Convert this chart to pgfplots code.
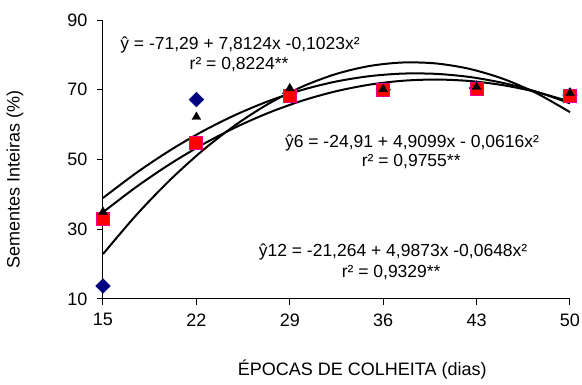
\documentclass[border=0pt]{standalone}
\usepackage{pgfplots}
\pgfplotsset{compat=1.18}
\usepackage{fontspec}
\setmainfont{Liberation Sans}
\definecolor{navy}{RGB}{0,0,128}
\begin{document}
\begin{tikzpicture}[x=1pt,y=1pt]
\path[use as bounding box] (-103,-86) rectangle (479,299);
\begin{axis}[
  at={(0,0)}, anchor=origin,
  scale only axis, width=467pt, height=279pt,
  xmin=15, xmax=50, ymin=10, ymax=90,
  axis lines=left, axis line style={line width=1pt,-},
  xtick={15,22,29,36,43,50}, ytick={10,30,50,70,90},
  tick align=outside, major tick length=6pt,
  tick style={line width=1pt,black},
  ticklabel style={font=\fontsize{18}{20}\selectfont},
  xticklabel style={yshift=-5pt},
  yticklabel style={xshift=-6pt},
  /pgf/number format/assume math mode=true,
  clip=false,
]
% diamonds
\addplot[only marks, mark=square*, mark size=5.2pt, mark options={rotate=45}, color=navy] coordinates {
(15,13.7) (22,67.2) (29,69) (36,70) (43,70.5) (50,68.5)};
% squares
\addplot[only marks, mark=square*, mark size=6.5pt, draw=magenta, fill=red, line width=1pt] coordinates {
(15,32.9) (22,54.8) (29,68.2) (36,69.9) (43,70.2) (50,68.3)};
% triangles
\addplot[only marks, mark=triangle*, mark size=5pt, color=black] coordinates {
(15,35) (22,62.2) (29,70.4) (36,70.2) (43,70.8) (50,69.0)};
% fitted curves
\addplot[smooth, line width=2pt, black] coordinates {
(15,22.88) (17.5,34.10) (20,44.04) (22.5,52.70) (25,60.08) (27.5,66.19) (30,71.01) (32.5,74.56) (35,76.83) (37.5,77.82) (40,77.53) (42.5,75.96) (45,73.11) (47.5,68.99) (50,63.58)};
\addplot[smooth, line width=2pt, black] coordinates {
(15,34.88) (17.5,42.15) (20,48.65) (22.5,54.38) (25,59.34) (27.5,63.53) (30,66.95) (32.5,69.60) (35,71.48) (37.5,72.59) (40,72.93) (42.5,72.50) (45,71.30) (47.5,69.33) (50,66.59)};
\addplot[smooth, line width=2pt, black] coordinates {
(15,38.97) (17.5,46.17) (20,52.56) (22.5,58.15) (25,62.92) (27.5,66.88) (30,70.04) (32.5,72.38) (35,73.91) (37.5,74.64) (40,74.55) (42.5,73.65) (45,71.94) (47.5,69.43) (50,66.10)};
% equations
\node[font=\fontsize{17.5}{19}\selectfont] at (axis cs:25.27,82.8) {ŷ = -71,29 + 7,8124x -0,1023x²};
\node[font=\fontsize{17.5}{19}\selectfont] at (axis cs:25.2,77.1) {r² = 0,8224**};
\node[font=\fontsize{17.5}{19}\selectfont] at (axis cs:38.16,54.7) {ŷ6 = -24,91 + 4,9099x - 0,0616x²};
\node[font=\fontsize{17.5}{19}\selectfont] at (axis cs:38.1,49.3) {r² = 0,9755**};
\node[font=\fontsize{17.5}{19}\selectfont] at (axis cs:36.74,23.5) {ŷ12 = -21,264 + 4,9873x -0,0648x²};
\node[font=\fontsize{17.5}{19}\selectfont] at (axis cs:36.6,17.7) {r² = 0,9329**};
% axis labels
\node[font=\fontsize{18}{20}\selectfont] at ([yshift=-71pt]rel axis cs:0.555,0) {ÉPOCAS DE COLHEITA (dias)};
\node[font=\fontsize{18}{20}\selectfont, rotate=90] at ([xshift=-88pt]rel axis cs:0,0.43) {Sementes Inteiras (\%)};
\end{axis}
\end{tikzpicture}
\end{document}
